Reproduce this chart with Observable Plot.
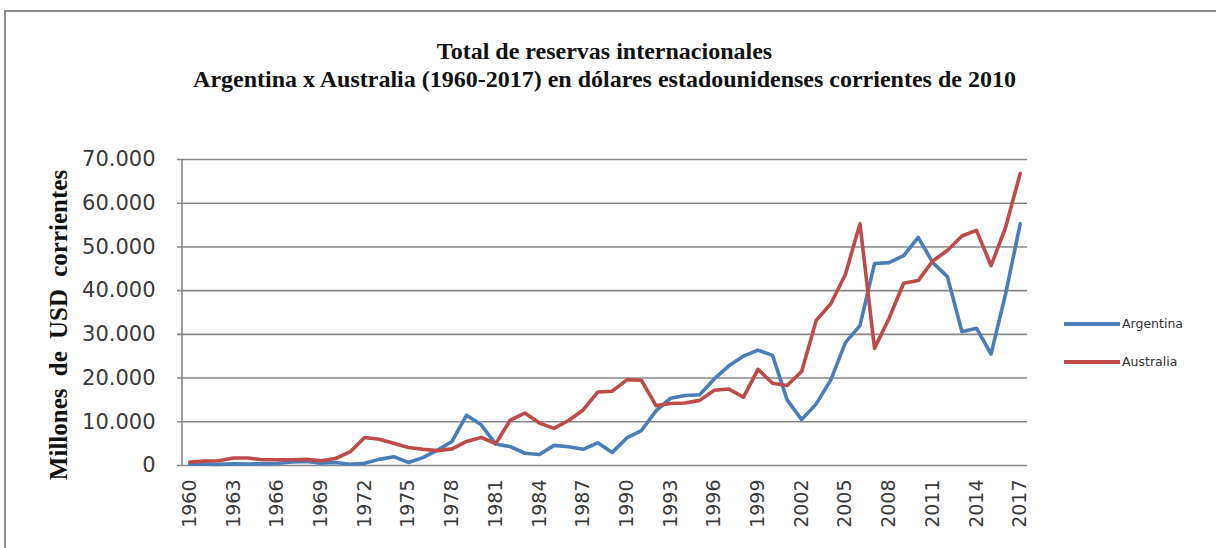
<!DOCTYPE html>
<html>
<head>
<meta charset="utf-8">
<script src="https://cdn.jsdelivr.net/npm/d3@7"></script>
<script src="https://cdn.jsdelivr.net/npm/@observablehq/plot@0.6"></script>
<style>
  body { margin: 0; background: #fff; }
  #wrap { position: relative; width: 1216px; height: 548px; overflow: hidden; background: #fff; }
  #frame { position: absolute; left: 4px; top: 10px; width: 1240px; height: 600px; border: 2px solid #8c8c8c; }
  #title { position: absolute; left: 182px; width: 845px; top: 37px; text-align: center;
           font-family: "Liberation Serif", serif; font-weight: bold; font-size: 24px; line-height: 28px; color: #111; }
  #ylabel { position: absolute; left: 59px; top: 325px; transform: translate(-50%, -50%) rotate(-90deg);
            white-space: nowrap; font-family: "Liberation Serif", serif; font-weight: bold; font-size: 25px; color: #111; word-spacing: 6px; }
  #chart { position: absolute; left: 0; top: 0; }
  .leg { position: absolute; left: 1064px; display: flex; align-items: center; font-family: "DejaVu Sans", sans-serif; font-size: 12.5px; color: #333; }
  .leg span.sw { display: inline-block; width: 56px; height: 4px; margin-right: 2px; }
</style>
</head>
<body>
<div id="wrap">
  <div id="frame"></div>
  <div id="title">Total de reservas internacionales<br>Argentina x Australia (1960-2017) en dólares estadounidenses corrientes de 2010</div>
  <div id="ylabel">Millones de USD corrientes</div>
  <div id="chart"></div>
  <div class="leg" style="top:316px"><span class="sw" style="background:#4A7EBB"></span>Argentina</div>
  <div class="leg" style="top:354px"><span class="sw" style="background:#BE4B48"></span>Australia</div>
</div>
<script>
const years = [1960,1961,1962,1963,1964,1965,1966,1967,1968,1969,
  1970,1971,1972,1973,1974,1975,1976,1977,1978,1979,
  1980,1981,1982,1983,1984,1985,1986,1987,1988,1989,
  1990,1991,1992,1993,1994,1995,1996,1997,1998,1999,
  2000,2001,2002,2003,2004,2005,2006,2007,2008,2009,
  2010,2011,2012,2013,2014,2015,2016,2017];

const argentina = [300,350,250,400,350,400,450,800,900,550,
  700,300,500,1400,2000,700,1800,3500,5500,11500,
  9300,4900,4300,2800,2500,4600,4300,3700,5200,3000,
  6300,8000,12500,15400,16000,16200,19800,22800,25000,26400,
  25200,15000,10500,14100,19600,28100,32000,46200,46400,48000,
  52200,46400,43200,30600,31400,25500,39300,55300];

const australia = [800,1000,1100,1700,1700,1300,1300,1300,1400,1100,
  1600,3100,6400,6000,5100,4100,3700,3400,3800,5500,
  6400,5000,10400,12000,9700,8500,10300,12700,16800,17000,
  19600,19500,13700,14200,14300,14900,17200,17500,15600,22000,
  18800,18300,21500,33200,37000,43700,55300,26800,33700,41700,
  42300,46800,49200,52500,53800,45700,54500,66800];

const xTickYears = [1960,1963,1966,1969,1972,1975,1978,1981,1984,1987,1990,1993,1996,1999,2002,2005,2008,2011,2014,2017];
const yTicks = [0,10000,20000,30000,40000,50000,60000,70000];
const countries = ["Argentina", "Australia"];
const colors = ["#4A7EBB", "#BE4B48"];

const data = years.flatMap((yr, i) => [
  {year: yr, value: argentina[i], country: countries[0]},
  {year: yr, value: australia[i], country: countries[1]}
]);

const loc = d3.formatLocale({decimal: ",", thousands: ".", grouping: [3], currency: ["", ""]});
const fmt = loc.format(",");

const gridColor = "#878787";

const chart = Plot.plot({
  width: 1216,
  height: 548,
  marginLeft: 182,
  marginRight: 189,
  marginTop: 159,
  marginBottom: 83,
  style: {fontFamily: "'DejaVu Sans', sans-serif", background: "transparent", color: "#333", overflow: "visible"},
  x: {type: "point", domain: years, padding: 0.5},
  y: {domain: [0, 70000]},
  color: {domain: countries, range: colors},
  marks: [
    Plot.ruleY(yTicks, {y: d => d, stroke: gridColor, strokeWidth: 1.6, insetLeft: -5}),
    (index, scales, values, dims) => {
      const g = document.createElementNS("http://www.w3.org/2000/svg", "line");
      g.setAttribute("x1", dims.marginLeft);
      g.setAttribute("x2", dims.marginLeft);
      g.setAttribute("y1", dims.marginTop);
      g.setAttribute("y2", dims.height - dims.marginBottom);
      g.setAttribute("stroke", gridColor);
      g.setAttribute("stroke-width", 1.6);
      return g;
    },
    Plot.axisY({ticks: yTicks, tickFormat: fmt, tickSize: 0, tickPadding: 27, fontSize: 21, fill: "#3a3a3a", label: null}),
    Plot.axisX({ticks: xTickYears, tickFormat: d => String(d), tickRotate: -90, tickSize: 0, tickPadding: 14, fontSize: 19, fill: "#3a3a3a", label: null}),
    Plot.line(data, {x: "year", y: "value", z: "country", stroke: "country", strokeWidth: 3.6, strokeLinejoin: "round", strokeLinecap: "round"})
  ]
});
document.getElementById("chart").appendChild(chart);
</script>
</body>
</html>
